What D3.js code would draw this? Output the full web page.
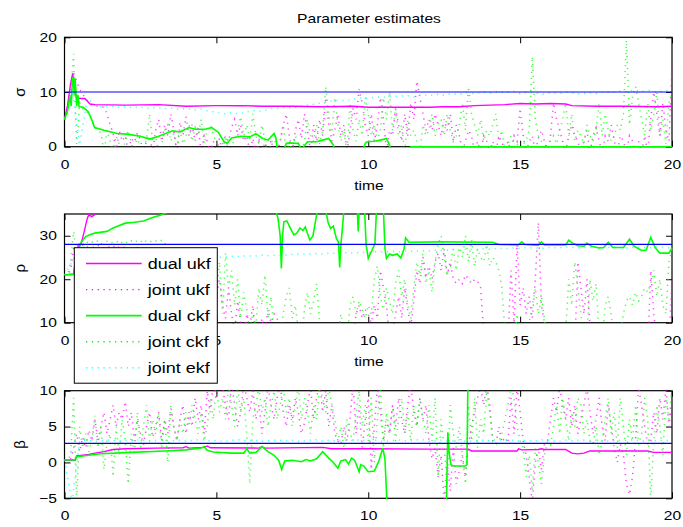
<!DOCTYPE html>
<html>
<head>
<meta charset="utf-8">
<script src="https://cdn.jsdelivr.net/npm/d3@7"></script>
<style>
  body { margin: 0; background: #fff; }
  text { font-family: "Liberation Sans", Arial, Helvetica, sans-serif; fill: #000; }
</style>
</head>
<body>
<svg id="chart" width="683" height="527"></svg>
<script>
// ---------- data ----------
const timeRange = [0, 20];
const xTicks = [0, 5, 10, 15, 20];
const sigmaTicks = [0, 10, 20];
const rhoTicks = [10, 20, 30];
const betaTicks = [-5, 0, 5, 10];
const trueSigma = 10;
const trueRho = 28;
const trueBeta = 2.667;

const legendNames = ["dual ukf", "joint ukf", "dual ckf", "joint ckf", "joint ekf"];

// dual filters: [time, estimate]
const sigmaDualUkf = [[0,5.0],[0.1,7.5],[0.2,11.5],[0.27,13.4],[0.32,11],[0.36,9.8],[0.4,8.8],[0.67,8.8],[0.84,7.8],[1.0,7.7],[2.0,7.6],[3.1,7.7],[4.0,7.4],[5.0,7.5],[5.8,7.5],[6.5,7.4],[7.5,7.4],[8.5,7.3],[9.5,7.4],[10.0,7.2],[11.0,7.2],[12.0,7.2],[12.5,7.3],[13.0,7.3],[13.5,7.5],[14.0,7.6],[14.5,7.7],[15.0,7.9],[15.5,7.8],[16.0,7.9],[16.5,7.8],[16.7,7.5],[17.5,7.4],[18.5,7.4],[19.5,7.3],[20,7.4]];
const sigmaDualCkf = [[0,5.0],[0.1,6.5],[0.18,9.2],[0.22,7.4],[0.26,12.2],[0.29,12.8],[0.32,9.5],[0.35,12.5],[0.4,7.4],[0.44,9.5],[0.48,7.3],[0.62,7.2],[0.78,6.4],[0.9,4.9],[0.99,3.5],[1.3,3.0],[1.73,2.4],[2.06,2.3],[2.5,1.9],[2.8,1.4],[3.1,1.9],[3.56,2.9],[3.8,2.7],[4.1,3.5],[4.3,3.2],[4.63,3.2],[4.85,3.5],[5.07,2.6],[5.24,1.0],[5.35,0.6],[5.5,1.6],[5.8,1.9],[6.1,1.8],[6.3,2.4],[6.5,1.6],[6.7,1.2],[6.9,2.4],[6.96,1.6],[7.02,-1],[7.2,-1],[7.3,0.6],[7.4,0.7],[7.7,0.6],[7.8,-0.5],[7.9,0.2],[8.0,0.9],[8.3,0.9],[8.5,1.2],[8.7,1.5],[8.85,0.3],[8.9,-1],[9.8,-1],[9.9,0.6],[9.96,0.9],[10.2,1.0],[10.4,1.2],[10.6,1.5],[10.7,0.3],[10.75,-1],[11.35,-1],[11.4,0],[20,0]];
const rhoDualUkf = [[0,21],[0.3,21.2],[0.35,24],[0.45,27.5],[0.55,28.2],[0.65,31],[0.75,34],[0.8,34.8],[0.9,34.4],[1.0,34.9],[1.1,36],[1.3,38]];
const rhoDualCkf = [[0,21],[0.3,21.1],[0.38,22],[0.45,26.5],[0.55,28.5],[0.7,29.8],[0.85,30.3],[1.0,30.6],[1.4,31.0],[1.6,31.8],[2.0,32.9],[2.3,33.1],[2.6,33.4],[2.9,34.2],[3.2,34.8],[3.5,35.8],[6.9,37],[7.03,34],[7.1,30],[7.14,22.5],[7.18,30],[7.22,33.2],[7.32,33.4],[7.45,31.5],[7.55,30.2],[7.65,30.6],[7.75,31.8],[7.85,31.2],[7.93,32],[8.0,30.5],[8.08,29.0],[8.18,30],[8.28,34],[8.33,35.8],[8.6,35.8],[8.68,33],[8.76,31.7],[8.85,32.2],[8.95,29.4],[9.02,28.5],[9.06,22.7],[9.1,28],[9.14,31],[9.2,35.8],[9.64,35.8],[9.67,31],[9.7,35.8],[9.88,35.8],[9.93,28],[10.0,24.8],[10.06,25.8],[10.12,26.6],[10.22,28.2],[10.27,35.8],[10.5,35.8],[10.55,27],[10.6,24.8],[10.7,25.8],[10.8,25.5],[10.95,25.8],[11.07,24.9],[11.18,27],[11.23,29.5],[11.34,28.5],[12.4,28.6],[14.1,28.5],[14.3,28],[14.8,27.9],[14.95,27.9],[15.05,28.6],[15.15,28.0],[15.6,27.8],[15.7,28.6],[15.8,27.9],[16.5,27.9],[16.6,29],[16.7,28.4],[16.9,27.7],[17.1,27.6],[17.2,28.3],[17.35,27.6],[17.6,27.2],[17.75,27.3],[17.9,28.5],[18.05,27.3],[18.4,27.3],[18.6,29.2],[18.75,27.6],[19.0,26.6],[19.15,26.7],[19.3,29.6],[19.45,27.2],[19.6,26.0],[19.9,26.0],[20,27.2]];
const betaDualUkf = [[0,0.3],[0.35,0.3],[0.4,0.9],[0.6,1.0],[0.8,1.1],[1.0,1.3],[1.3,1.5],[1.6,1.8],[2.0,1.9],[3.0,2.0],[3.9,2.05],[4.0,2.2],[4.1,2.0],[4.6,2.1],[4.7,2.3],[4.8,2.05],[6.4,2.0],[6.5,2.2],[6.6,2.0],[8.5,2.1],[8.8,1.9],[10,1.9],[12,1.85],[13.3,1.85],[13.4,1.6],[14.9,1.6],[14.95,1.9],[15.05,1.75],[15.6,1.8],[15.7,1.9],[15.8,1.8],[16.5,1.8],[16.7,1.3],[16.9,1.2],[17.1,1.3],[17.3,1.6],[19.2,1.6],[19.4,1.4],[20,1.4]];
const betaDualCkf = [[0,0.35],[0.35,0.35],[0.4,0.8],[0.8,1.0],[1.2,1.2],[2.2,1.4],[3.3,1.6],[4.0,1.75],[4.5,2.0],[4.6,2.2],[4.7,1.7],[4.9,1.45],[5.5,1.3],[5.9,1.3],[6.0,1.9],[6.1,1.3],[6.3,1.4],[6.5,2.2],[6.7,1.5],[6.9,1.0],[7.05,0.3],[7.15,-1.0],[7.25,0.2],[7.5,0.3],[7.8,0.1],[7.95,0.4],[8.1,0.2],[8.3,0.5],[8.5,1.5],[8.7,0.6],[8.85,0.0],[9.0,-0.8],[9.1,0.2],[9.25,0.4],[9.35,-0.2],[9.45,0.6],[9.55,0.3],[9.7,-1.3],[9.75,-0.3],[9.85,-0.5],[10.0,-1.3],[10.2,-1.2],[10.35,0.2],[10.48,2.0],[10.55,0.5],[10.62,-6],[12.57,-6],[12.62,4.2],[12.66,1.5],[12.72,-0.3],[12.8,-0.5],[13.2,-0.5],[13.25,-0.3],[13.28,11],[20,11]];

// joint filters: estimates sampled every 0.1 (ukf, ckf) or 0.25 (ekf) over 0..20
const sigmaJointUkf = [
  5, 6.5, 10, 13.5, 12, 10.5, 9.5, 9, 8, 7.6,
  7.5, 7.4, 7.3, 7.2, 6, 4, 2.5, -1, 3, 1,
  2, -1, 1.5, 0.8, 2.5, 1.2, -1, 1, 2, -1,
  3, 5, 1, 4, 2, 6, 3, -1, 4.5, 2,
  5.5, 2, 4, 1, 3.5, -1, 2, 1, -1, 1,
  -1, 1.5, -1, 2, 1, 3.5, 5, 2, 4, 1,
  2, -1, 1.5, -1, 1, -1, 0.8, -1, 1.2, -1,
  -1, 1, 4, 6, 2, -1, 3, 5, 1.5, 6,
  3, -1, 4, 1, 5, 2, 9, 4, 1, 3,
  6, 2, 4, -1, 3, 7, 5, 10.5, 8, 4,
  2, 6, 1, 4, 9, 5, -1, 3, 2, 7,
  4, 1, 6, 2, 8, 5, 12, 9, 6, 3,
  5, 3, 6, 4, 2, 5, 3, 6, 1, 4,
  2, -1, 1, 3, 2, -1, 1, -1, 2, 1,
  -1, 1, -1, 2, 0.8, -1, 1, -1, 2, 1,
  7, 2, -1, 1, 2, -1, 1.5, 3, 1, -1,
  2, 8, 5, 3, 1, -1, 2, 4, 2, 1,
  -1, 1, 3, -1, 2, 3.5, 1, -1, 2, 1,
  4, 1, -1, 2, 1, -1, 2, 1, -1, 1,
  -1, 2, -1, 5, 10, 6, 2, 8, 3, 1,
  15];
const sigmaJointCkf = [
  5, 6, 10, 17, 0.5, 8, 7, 6.5, 6, 5,
  3.5, 3, 2.5, -1, 3, 1, -1, 2, 0.5, -1,
  1, 3, 0.5, -1, 2, -1, -1, 1.5, 6, 1,
  2, -1, 0.5, 3, 4, 1, 2.5, -1, 3, 0.5,
  2, 4, 1, 3.5, 2, 5, 0.5, 3, 4, 2,
  1, -1, 0.5, 2, -1, 0.5, 1, 3, 5.5, 2,
  4, 1, 6, 2, 0.5, 4, 1, -1, 0.5, 2,
  -1, 1, 4, -1, 0.5, -1, 2, 0.5, -1, 1,
  5, 2, 1, 4, 0.5, 3, 11, 6, 2, 9,
  4, 1, 3, -1, 8, 3, 1, 5, 2, 9,
  6, 2, 4, 1, 3, 9, 5, 10, 3, 7,
  2, 4, -1, 5, 2, 3, 1, -1, 4, 2,
  3, 6, 2, 4, 5, 2, 6, 3, 1, 2,
  4, 8, 3, 11, 6, 4, 2, 5, 1, 3,
  2, 4, 6, 1, 3, -1, 0.5, 2, 1, 0.5,
  -1, 0.5, 1, 3, 16.5, 5, 2, 1, -1, 0.5,
  1, 2, 0.5, 3, 5, 8, 2, 6, 1, 3,
  2, 0.5, 4, 2, 1, 3, 8, 2, 6, 3,
  1, 2, 4, 3, 6, 19.5, 4, 9, 11, 8,
  5, 2, 8, 3, 6, 10, 2, 5, 0.5, 8,
  10];
const sigmaJointEkf = [
  5, 10.5, 0.3, 8.8,
  7.6, 7.3, 7.5, 7.2,
  7.4, 7.1, 7.3, 7.0,
  7.2, 6.9, 7.1, 6.8,
  7.0, 6.7, 6.9, 6.5,
  6.3, 6.0, 6.2, 6.0,
  6.4, 6.6, 6.5, 6.9,
  7.0, 7.2, 7.1, 7.4,
  7.6, 7.8, 8.0, 8.3,
  8.5, 8.4, 8.7, 8.9,
  8.8, 9.1, 9.0, 9.3,
  9.2, 9.4, 9.1, 9.5,
  9.3, 9.6, 9.4, 9.7,
  9.5, 9.9, 9.7, 10.0,
  9.8, 10.1, 9.9, 10.2,
  9.7, 10.0, 9.8, 9.6,
  9.9, 9.7, 10.0, 9.8,
  9.6, 9.9, 9.7, 10.1,
  9.9, 10.2, 10.0, 10.4,
  10.1, 10.3, 10.0, 10.2,
  10.4];

const rhoJointUkf = [
  21, 21, 22, 27, 28, 27.5, 27.8, 27.2, 27.6, 27.4,
  27.3, 27.8, 27.5, 27.1, 27.6, 27.3, 27.7, 27.0, 27.5, 27.2,
  27.4, 26.8, 27.3, 25, 27.5, 27, 20, 15, 18, 12,
  16, 10, 14, 8, 12, 18, 9, 15, 11, 6,
  13, 17, 10, 8, 14, 19, 12, 7, 15, 9,
  16, 20, 14, 11, 18, 12, 8, 15, 10, 6,
  12, 9, 14, 7, 5, 11, 8, 13, 10, 12,
  11, 8, 5, 4, 6, 3, 5, 4, 6, 5,
  4, 6, 3, 5, 4, 6, 3, 5, 4, 5,
  4, 6, 5, 3, 5, 6, 12, 14, 11, 13,
  12, 10, 14, 11, 22, 18, 14, 6, 8, 12,
  16, 11, 18, 13, 9, 15, 22, 19, 25, 21,
  23, 20, 24, 26, 22, 27, 21, 24, 20, 19,
  20, 19, 21, 20, 19, 20, 19.5, 18, 8, 5,
  4, 6, 5, 3, 5, 4, 6, 22, 10, 28,
  14, 18, 12, 16, 11, 20, 33, 14, 10, 4,
  5, 3, 6, 4, 5, 3, 4, 6, 5, 24,
  18, 12, 20, 9, 6, 4, 5, 3, 4, 6,
  5, 4, 3, 6, 5, 4, 3, 5, 4, 6,
  5, 4, 3, 22, 12, 6, 5, 4, 3, 6,
  20];
const rhoJointCkf = [
  21, 21, 24, 31, 26, 28.5, 28, 28.8, 28.2, 28.6,
  28.3, 28.9, 28.1, 28.5, 28.7, 28.2, 28.6, 28.4, 29, 28.3,
  28.7, 28.2, 28.8, 28.4, 28.9, 28.5, 29.2, 28.6, 28.9, 28.4,
  28.8, 28.5, 29, 28.6, 24, 18, 14, 20, 12, 16,
  11, 18, 14, 22, 12, 16, 10, 19, 13, 21,
  15, 24, 12, 26, 18, 22, 14, 20, 11, 17,
  13, 8, 12, 9, 18, 14, 21, 11, 16, 8,
  5, 7, 12, 16, 18, 11, 14, 8, 6, 13,
  17, 12, 15, 19, 10, 7, 5, 8, 6, 5,
  7, 12, 8, 6, 14, 16, 12, 15, 13, 11,
  14, 12, 20, 23, 16, 13, 18, 15, 12, 19,
  22, 16, 20, 14, 11, 18, 24, 21, 26, 19,
  22, 17, 24, 28, 30, 25, 21, 23, 27, 22,
  28, 25, 30, 24, 29, 23, 27, 25, 24, 28,
  23, 25, 24, 22, 18, 8, 6, 7, 5, 12,
  7, 5, 6, 10, 14, 18, 12, 16, 11, 6,
  5, 7, 4, 6, 5, 8, 20, 14, 24, 18,
  12, 7, 8, 20, 15, 19, 8, 6, 14, 16,
  12, 6, 5, 8, 12, 15, 16, 14, 17, 15,
  16, 18, 17, 19, 22, 16, 20, 14, 12, 24,
  27];
const rhoJointEkf = [
  21, 24, 27.6, 27.3,
  27.0, 26.6, 26.2, 25.9,
  25.6, 25.3, 25.1, 24.9,
  24.8, 24.9, 24.7, 24.9,
  25.0, 24.8, 25.1, 24.9,
  25.1, 25.0, 25.3, 25.2,
  25.4, 25.3, 25.5, 25.4,
  25.6, 25.5, 25.7, 25.8,
  25.7, 25.9, 25.8, 26.0,
  25.9, 26.1, 26.0, 26.2,
  26.1, 26.3, 26.2, 26.4,
  26.3, 26.5, 26.4, 26.6,
  26.5, 26.7, 26.6, 26.8,
  26.7, 26.9, 26.8, 27.0,
  26.9, 27.1, 27.0, 27.2,
  27.1, 27.3, 27.2, 27.1,
  27.3, 27.2, 27.4, 27.3,
  27.2, 27.4, 27.3, 27.2,
  27.4, 27.3, 27.2, 27.4,
  27.3, 27.2, 27.4, 27.3,
  27.2];

const betaJointUkf = [
  0.3, 0.3, 0.5, 2, 4, 1.5, 3.5, 2, 4.5, 3,
  6, 3, 5, 7, 4, 6, 8, 5, 7, 6,
  8.5, 5, 7, 3, 6, 4, 2.5, 5, 7, 3.5,
  5, 7, 3, 6, 4, 7.5, 5, 3, 6, 8,
  4, 7, 5, 9, 6, 8, 4, 10, 7, 11,
  9, 11, 10.5, 8, 6, 11, 8, 5, 7, 11,
  9, 7, 10, 6, 8, 4, 7, 10.5, 8, 6,
  9, 11, 7, 5, 8, 6, 9, 7, 4, 5.5,
  8, 10.5, 6, 9, 11, 7, 10, 5, 8, 4,
  3, 2.5, 5, 3, 6, 11, 4, 8, 2, 6,
  9, -1, 5, 10.5, 7, 3, 6, 4, 8, 5,
  9, 6, 4, 8, 11, 7, 5, 9, 6, 8,
  3, 0.5, 2, -2, 1, -5.5, 0, -4, 2, -3,
  -1, 1, -2, 2.5, 5, 7, 9, 10.5, 8, 11,
  8, 3, 2.5, 5, 2.8, 3.5, 2.7, 9, 4, 10.5,
  7, 3, 1, -2, -5.5, 0, 2, -1, 2.5, 3,
  6, 9, 7, 10.5, 8, 6, 9, 5, 8, 4,
  6, 8, 10.5, 7, 4, 6, 9, 5, 3, 8,
  5, 2, 0, 2.5, 1, -3, -4.5, -2, 3, 10.5,
  8, 5, 2.5, 3, 7, 4, 9, 6, 10.5, 5,
  9];
const betaJointCkf = [
  0.3, 0.3, 1, 9, -5.5, 5, 2, 4, 1.5, 3,
  6.5, 2, 5, -1, 3, 4, -2, 5, 1, 6,
  3, -3, 4, 1, 7, 2, 5, 8, 3, 6,
  4, 7, 2, 6, 0, 8, 5, 3, 6, 4,
  7, 5, 8, 6, 4, 7, 3, 5, 9, 6,
  10.5, 7, 9, 6, 10.5, 8, 5, 10.5, 7, 9,
  4, -3, 6, 8, 10.5, 7, 9, 5, 8, 10,
  6, 8, 10.5, 7, 9, 5, 8, 10.5, 6, 9,
  7, 4, 8, 6, 10.5, 9, 7, 10.5, 8, 6,
  3, 5, 2, 6, 4, 3, 7, 10, 5, 8,
  3, 9, 0, 6, 10.5, 2, 7, 4, 8, 3,
  6, 9, 4, 7, 3, 8, 5, 9, 6, 4,
  8, 3, 9, -2, 6, 2, -3, 8, 4, 2,
  5, 1, -3, 8, 3, 9, 2, 6, 4, 10,
  7, 3, 2.5, 3, 4, 6, 8, 10.5, 9, 5,
  3, 2, -2, 1, -4, 2, 0, -3, 1, 3,
  2.5, 5, 8, 4, 9, 6, 3, 7, 5, 9,
  8, 4, 6, 3, 2.5, 5, 1, 3, 6, 9,
  4, 7, 2, 9, 5, 1, 6, 3, 8, 2.5,
  4, 9, 6, -5.5, 3, 8, 5, 1, 9, 6,
  10.5];
const betaJointEkf = [
  0.3, -5.5, 3.0, 3.1,
  2.9, 3.05, 3.15, 2.95,
  3.1, 3.0, 3.2, 2.9,
  3.05, 3.15, 3.0, 3.1,
  2.95, 3.1, 3.2, 3.0,
  3.05, 2.9, 3.1, 3.15,
  3.0, 3.1, 2.95, 3.05,
  3.15, 3.0, 3.1, 2.9,
  3.05, 3.2, 3.0, 3.1,
  2.95, 3.1, 3.05, 3.15,
  3.0, 3.1, 2.9, 3.05,
  3.15, 3.0, 3.1, 3.2,
  2.95, 3.05, 3.1, 3.0,
  3.15, 2.9, 3.05, 3.1,
  3.0, 3.2, 3.05, 3.1,
  2.95, 3.1, 3.0, 3.15,
  3.05, 2.9, 3.1, 3.0,
  3.15, 3.05, 3.1, 2.95,
  3.0, 3.1, 3.05, 3.2,
  2.95, 3.1, 3.0, 3.05,
  3.1];

// ---------- drawing ----------
const COLORS = { ukf: "#ff00ff", ckf: "#00ff00", ekf: "#00ffff", truth: "#0000ff" };
const STRETCH = 1.2;               // horizontal text stretch
const svg = d3.select("#chart");
const left = 64.5, right = 672;
const x = d3.scaleLinear().domain(timeRange).range([left, right]);

const panels = [
  { id: "sigma", label: "σ", domain: [0, 20], ticks: sigmaTicks, top: 37.3, bottom: 146.7, truth: trueSigma,
    dualUkf: sigmaDualUkf, dualCkf: sigmaDualCkf, jointUkf: sigmaJointUkf, jointCkf: sigmaJointCkf, jointEkf: sigmaJointEkf, xlabel: "time" },
  { id: "rho", label: "ρ", domain: [10, 35], ticks: rhoTicks, top: 214, bottom: 322.7, truth: trueRho,
    dualUkf: rhoDualUkf, dualCkf: rhoDualCkf, jointUkf: rhoJointUkf, jointCkf: rhoJointCkf, jointEkf: rhoJointEkf, xlabel: "time" },
  { id: "beta", label: "β", domain: [-5, 10], ticks: betaTicks, top: 390.7, bottom: 498.3, truth: trueBeta,
    dualUkf: betaDualUkf, dualCkf: betaDualCkf, jointUkf: betaJointUkf, jointCkf: betaJointCkf, jointEkf: betaJointEkf, xlabel: null }
];

function toSeries(values) {
  const step = (timeRange[1] - timeRange[0]) / (values.length - 1);
  return values.map((v, i) => [timeRange[0] + i * step, v]);
}

function styleTickText(sel, size) {
  sel.selectAll("text")
    .attr("fill", "#000")
    .style("font-size", size + "px")
    .style("font-family", "'Liberation Sans', Arial, Helvetica, sans-serif")
    .attr("transform", `scale(${STRETCH},1)`);
}

// title
svg.append("text")
  .attr("transform", `translate(369,22.8) scale(${STRETCH},1)`)
  .attr("text-anchor", "middle")
  .style("font-size", "13px")
  .text("Parameter estimates");

panels.forEach(p => {
  const y = d3.scaleLinear().domain(p.domain).range([p.bottom, p.top]);
  const g = svg.append("g").attr("class", "panel-" + p.id);

  // box
  g.append("rect")
    .attr("x", left).attr("y", p.top)
    .attr("width", right - left).attr("height", p.bottom - p.top)
    .attr("fill", "none").attr("stroke", "#000").attr("stroke-width", 1.2);

  // ticks (pointing inward on all four sides)
  const axB = g.append("g").attr("transform", `translate(0,${p.bottom})`)
    .call(d3.axisBottom(x).tickValues(xTicks).tickSizeInner(-6).tickSizeOuter(0).tickPadding(12.8).tickFormat(d3.format("d")));
  const axT = g.append("g").attr("transform", `translate(0,${p.top})`)
    .call(d3.axisTop(x).tickValues(xTicks).tickSizeInner(-6).tickSizeOuter(0).tickFormat(""));
  const axL = g.append("g").attr("transform", `translate(${left},0)`)
    .call(d3.axisLeft(y).tickValues(p.ticks).tickSizeInner(-6).tickSizeOuter(0).tickPadding(6.3).tickFormat(d => d < 0 ? "\u2212" + Math.abs(d) : d));
  const axR = g.append("g").attr("transform", `translate(${right},0)`)
    .call(d3.axisRight(y).tickValues(p.ticks).tickSizeInner(-6).tickSizeOuter(0).tickFormat(""));
  [axB, axT, axL, axR].forEach(a => {
    a.select(".domain").remove();
    a.selectAll("line").attr("stroke", "#000").attr("stroke-width", 1);
  });
  styleTickText(axB, 13);
  styleTickText(axL, 13);

  // y label
  g.append("text")
    .attr("transform", `translate(24.5,${(p.top + p.bottom) / 2}) rotate(-90)`)
    .attr("text-anchor", "middle")
    .style("font-size", "15px")
    .text(p.label);

  if (p.xlabel) {
    g.append("text")
      .attr("transform", `translate(369,${p.bottom + 43}) scale(${STRETCH},1)`)
      .attr("text-anchor", "middle")
      .style("font-size", "13px")
      .text(p.xlabel);
  }

  // data, clipped to the axes box
  const clipId = "clip-" + p.id;
  svg.append("clipPath").attr("id", clipId)
    .append("rect").attr("x", left - 1).attr("y", p.top - 1)
    .attr("width", right - left + 2).attr("height", p.bottom - p.top + 2);
  const plot = g.append("g").attr("clip-path", `url(#${clipId})`);
  const line = d3.line().x(d => x(d[0])).y(d => y(d[1]));

  const dotted = (data, color) => plot.append("path")
    .attr("d", line(data)).attr("fill", "none")
    .attr("stroke", color).attr("stroke-width", 1.5)
    .attr("stroke-dasharray", "1.2,4.8").attr("stroke-opacity", 0.75);

  dotted(toSeries(p.jointUkf), COLORS.ukf);
  dotted(toSeries(p.jointCkf), COLORS.ckf);
  dotted(toSeries(p.jointEkf), COLORS.ekf);

  plot.append("path").attr("d", line(p.dualUkf)).attr("fill", "none")
    .attr("stroke", COLORS.ukf).attr("stroke-width", 1.4);
  plot.append("path").attr("d", line(p.dualCkf)).attr("fill", "none")
    .attr("stroke", COLORS.ckf).attr("stroke-width", 1.6);

  // true parameter value
  plot.append("path").attr("d", line([[timeRange[0], p.truth], [timeRange[1], p.truth]]))
    .attr("fill", "none").attr("stroke", COLORS.truth).attr("stroke-width", 1.2);
});

// legend
const legend = svg.append("g").attr("class", "legend");
const lx = 74.3, ly = 247.7, lw = 143, lh = 135.5, rowGap = 26.1, firstRow = 263.5;
legend.append("rect").attr("x", lx).attr("y", ly).attr("width", lw).attr("height", lh)
  .attr("fill", "#fff").attr("stroke", "#000").attr("stroke-width", 1);
const legendStyles = [
  { color: COLORS.ukf, dash: null, width: 1.4 },
  { color: COLORS.ukf, dash: "1.3,4.5", width: 1.4 },
  { color: COLORS.ckf, dash: null, width: 1.8 },
  { color: COLORS.ckf, dash: "1.3,4.5", width: 1.4 },
  { color: COLORS.ekf, dash: "1.3,4.5", width: 1.4 }
];
legendNames.forEach((name, i) => {
  const cy = firstRow + i * rowGap;
  const s = legendStyles[i];
  const ln = legend.append("line").attr("x1", 86).attr("x2", 141.7).attr("y1", cy).attr("y2", cy)
    .attr("stroke", s.color).attr("stroke-width", s.width);
  if (s.dash) ln.attr("stroke-dasharray", s.dash);
  legend.append("text")
    .attr("transform", `translate(147.7,${cy + 5.3}) scale(${STRETCH},1)`)
    .style("font-size", "15px")
    .text(name);
});
</script>
</body>
</html>
